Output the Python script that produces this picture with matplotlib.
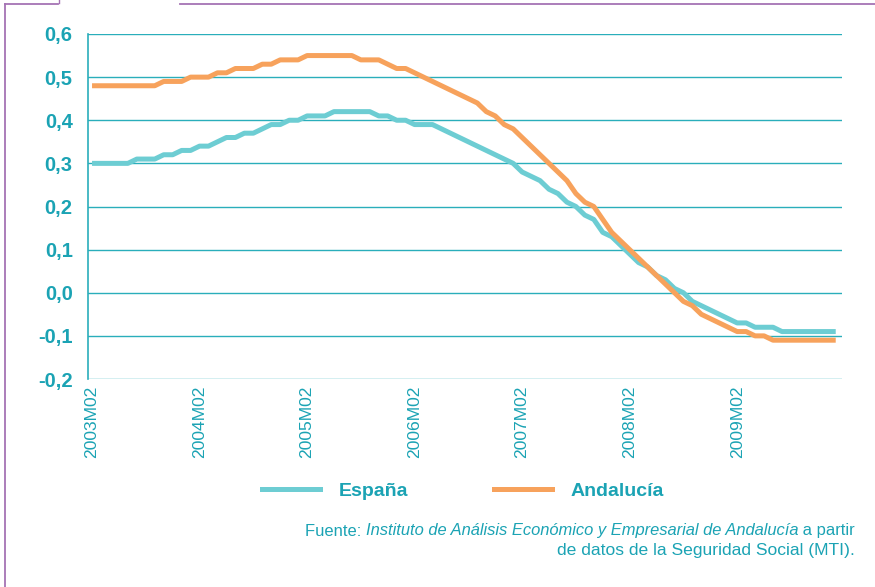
import matplotlib
matplotlib.use("Agg")
import matplotlib.pyplot as plt
from matplotlib.lines import Line2D

# monthly data, 2003M02 .. 2010M01
espana = [0.30, 0.30, 0.30, 0.30, 0.30, 0.31, 0.31, 0.31, 0.32, 0.32,
          0.33, 0.33, 0.34, 0.34, 0.35, 0.36, 0.36, 0.37, 0.37, 0.38,
          0.39, 0.39, 0.40, 0.40, 0.41, 0.41, 0.41, 0.42, 0.42, 0.42,
          0.42, 0.42, 0.41, 0.41, 0.40, 0.40, 0.39, 0.39, 0.39, 0.38,
          0.37, 0.36, 0.35, 0.34, 0.33, 0.32, 0.31, 0.30, 0.28, 0.27,
          0.26, 0.24, 0.23, 0.21, 0.20, 0.18, 0.17, 0.14, 0.13, 0.11,
          0.09, 0.07, 0.06, 0.04, 0.03, 0.01, 0.00, -0.02, -0.03, -0.04,
          -0.05, -0.06, -0.07, -0.07, -0.08, -0.08, -0.08, -0.09, -0.09, -0.09,
          -0.09, -0.09, -0.09, -0.09]
andalucia = [0.48, 0.48, 0.48, 0.48, 0.48, 0.48, 0.48, 0.48, 0.49, 0.49,
             0.49, 0.50, 0.50, 0.50, 0.51, 0.51, 0.52, 0.52, 0.52, 0.53,
             0.53, 0.54, 0.54, 0.54, 0.55, 0.55, 0.55, 0.55, 0.55, 0.55,
             0.54, 0.54, 0.54, 0.53, 0.52, 0.52, 0.51, 0.50, 0.49, 0.48,
             0.47, 0.46, 0.45, 0.44, 0.42, 0.41, 0.39, 0.38, 0.36, 0.34,
             0.32, 0.30, 0.28, 0.26, 0.23, 0.21, 0.20, 0.17, 0.14, 0.12,
             0.10, 0.08, 0.06, 0.04, 0.02, 0.00, -0.02, -0.03, -0.05, -0.06,
             -0.07, -0.08, -0.09, -0.09, -0.10, -0.10, -0.11, -0.11, -0.11, -0.11,
             -0.11, -0.11, -0.11, -0.11]
tick_labels = ["2003M02", "2004M02", "2005M02", "2006M02",
               "2007M02", "2008M02", "2009M02"]
y_ticks = [0.6, 0.5, 0.4, 0.3, 0.2, 0.1, 0.0, -0.1, -0.2]

TEAL = "#1ba3b4"
GRID = "#2aaebb"
C_ESP = "#6dcdd3"
C_AND = "#f7a25c"
PURPLE = "#a573b4"

plt.rcParams["font.family"] = ["Liberation Sans", "DejaVu Sans"]

fig = plt.figure(figsize=(8.75, 5.87), dpi=100)
ax = fig.add_axes([88 / 875, 1 - 379 / 587, (842 - 88) / 875, (379 - 34) / 587])

x = list(range(len(espana)))
ax.plot(x, espana, color=C_ESP, lw=3.6, solid_capstyle="butt", zorder=3)
ax.plot(x, andalucia, color=C_AND, lw=3.6, solid_capstyle="butt", zorder=4)

ax.set_xlim(-0.45, 83.7)
ax.set_ylim(-0.2, 0.6)
for v in y_ticks:
    ax.axhline(v, color=GRID, lw=1.0, zorder=1)

for s in ["top", "right", "bottom"]:
    ax.spines[s].set_visible(False)
ax.spines["left"].set_color(GRID)
ax.spines["left"].set_linewidth(1.2)

ax.set_yticks(y_ticks)
ax.set_yticklabels([("%.1f" % v).replace(".", ",") for v in y_ticks],
                   fontsize=14.5, color=TEAL, fontweight="bold")
ax.set_xticks([12 * i for i in range(len(tick_labels))])
ax.set_xticklabels(tick_labels, rotation=90, fontsize=12.6, color=TEAL)
ax.tick_params(axis="y", length=0, pad=11)
ax.tick_params(axis="x", length=0, pad=4.5)

handles = [Line2D([], [], color=C_ESP, lw=3.6),
           Line2D([], [], color=C_AND, lw=3.6)]
leg = fig.legend(handles, ["España", "Andalucía"], loc="center",
                 bbox_to_anchor=(463 / 875, 1 - 491 / 587), ncol=2, frameon=False,
                 handlelength=3.0, handletextpad=0.95, columnspacing=4.4,
                 prop={"size": 14, "weight": "bold"})
for t in leg.get_texts():
    t.set_color(TEAL)

# source note, mixed upright / italic, right aligned
fig.canvas.draw()
r = fig.canvas.get_renderer()
xr = 855 / 875
y1 = 1 - 531 / 587
y2 = 1 - 551 / 587
parts = [(" a partir", "normal"),
         ("Instituto de Análisis Económico y Empresarial de Andalucía", "italic"),
         ("Fuente: ", "normal")]
xpos = xr
for txt, st in parts:
    t = fig.text(xpos, y1, txt, ha="right", va="center", fontsize=11.9,
                 color=TEAL, style=st)
    bb = t.get_window_extent(renderer=r)
    xpos = bb.x0 / fig.bbox.width
fig.text(xr, y2, "de datos de la Seguridad Social (MTI).", ha="right", va="center",
         fontsize=12.6, color=TEAL)

# purple frame
fig.add_artist(Line2D([5 / 875, 5 / 875], [0, 1 - 4 / 587], color=PURPLE, lw=1.3))
fig.add_artist(Line2D([5 / 875, 58 / 875], [1 - 4 / 587, 1 - 4 / 587], color=PURPLE, lw=1.3))
fig.add_artist(Line2D([59 / 875, 59 / 875], [1 - 3 / 587, 1], color=PURPLE, lw=1.0))
fig.add_artist(Line2D([180 / 875, 1], [1 - 4 / 587, 1 - 4 / 587], color=PURPLE, lw=1.3))

fig.savefig("out.png", dpi=100)
